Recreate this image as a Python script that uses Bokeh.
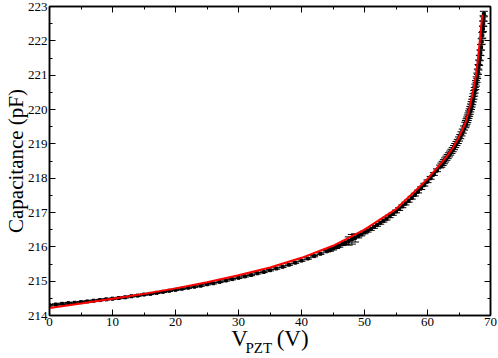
from bokeh.plotting import figure
from bokeh.models import (Range1d, LinearAxis, SingleIntervalTicker, Whisker, TeeHead,
                          ColumnDataSource, CustomJSTickFormatter)
from bokeh.embed import file_html
from bokeh.resources import INLINE

# ---------------- data ----------------
x_label_main = "V"
x_label_sub = "PZT"
x_label_unit = "(V)"
y_label = "Capacitance (pF)"

# measured capacitance, low-voltage part (1 V steps)
v_low = [0, 1, 2, 3, 4, 5, 6, 7, 8, 9, 10, 11, 12, 13, 14, 15, 16, 17, 18, 19, 20,
         21, 22, 23, 24, 25, 26, 27, 28, 29, 30, 31, 32, 33, 34, 35, 36, 37, 38, 39,
         40, 41, 42, 43, 44]
c_low = [214.30, 214.32, 214.34, 214.36, 214.37, 214.39, 214.41, 214.43, 214.45, 214.47,
         214.49, 214.51, 214.53, 214.56, 214.58, 214.61, 214.63, 214.66, 214.69, 214.72,
         214.75, 214.78, 214.81, 214.84, 214.87, 214.91, 214.94, 214.98, 215.02, 215.06,
         215.10, 215.14, 215.18, 215.23, 215.27, 215.32, 215.37, 215.42, 215.48, 215.54,
         215.60, 215.66, 215.73, 215.80, 215.87]
e_low = [0.02, 0.02, 0.02, 0.02, 0.02, 0.02, 0.02, 0.02, 0.02, 0.02,
         0.02, 0.02, 0.02, 0.02, 0.02, 0.02, 0.02, 0.02, 0.02, 0.02,
         0.02, 0.02, 0.02, 0.02, 0.02, 0.02, 0.02, 0.02, 0.02, 0.02,
         0.02, 0.02, 0.02, 0.02, 0.02, 0.02, 0.02, 0.02, 0.02, 0.02,
         0.02, 0.02, 0.02, 0.02, 0.02]

# middle part (0.5 V steps)
v_mid = [44.5, 45, 45.5, 46, 46.5, 47, 47.5, 48, 48.5, 49, 49.5, 50, 50.5, 51, 51.5, 52,
         52.5, 53, 53.5, 54, 54.5, 55, 55.5, 56, 56.5, 57, 57.5, 58, 58.5, 59, 59.5, 60,
         60.5, 61, 61.5, 62]
c_mid = [215.91, 215.95, 215.99, 216.03, 216.08, 216.12, 216.17, 216.22, 216.26, 216.31,
         216.36, 216.42, 216.47, 216.52, 216.58, 216.64, 216.70, 216.76, 216.82, 216.89,
         216.96, 217.03, 217.10, 217.18, 217.26, 217.34, 217.43, 217.52, 217.61, 217.71,
         217.81, 217.91, 218.01, 218.12, 218.23, 218.34]
e_mid = [0.04, 0.04, 0.04, 0.04, 0.04, 0.05, 0.12, 0.14, 0.12, 0.05,
         0.04, 0.04, 0.04, 0.04, 0.04, 0.04, 0.04, 0.04, 0.04, 0.04,
         0.04, 0.04, 0.04, 0.04, 0.04, 0.04, 0.04, 0.04, 0.04, 0.04,
         0.04, 0.04, 0.04, 0.04, 0.04, 0.04]

# upper part (0.2 V steps)
v_high = [62.2, 62.4, 62.6, 62.8, 63.0, 63.2, 63.4, 63.6, 63.8, 64.0, 64.2, 64.4, 64.6,
          64.8, 65.0, 65.2, 65.4, 65.6, 65.8]
c_high = [218.38, 218.43, 218.48, 218.53, 218.58, 218.63, 218.68, 218.73, 218.78, 218.83,
          218.89, 218.95, 219.01, 219.07, 219.14, 219.21, 219.29, 219.37, 219.46]
e_high = [0.06, 0.06, 0.06, 0.06, 0.06, 0.06, 0.06, 0.06, 0.06, 0.06,
          0.06, 0.06, 0.06, 0.06, 0.06, 0.06, 0.06, 0.06, 0.06]

# top part (0.1 V steps)
v_top = [66.0, 66.1, 66.2, 66.3, 66.4, 66.5, 66.6, 66.7, 66.8, 66.9, 67.0, 67.1, 67.2,
         67.3, 67.4, 67.5, 67.6, 67.7, 67.8, 67.9, 68.0, 68.1, 68.2, 68.3, 68.4, 68.5,
         68.6, 68.7, 68.8, 68.85, 68.9, 68.95]
c_top = [219.55, 219.60, 219.65, 219.70, 219.76, 219.82, 219.88, 219.94, 220.01, 220.08,
         220.15, 220.22, 220.30, 220.38, 220.47, 220.56, 220.66, 220.76, 220.87, 220.98,
         221.10, 221.23, 221.36, 221.50, 221.65, 221.81, 221.98, 222.16, 222.35, 222.50,
         222.65, 222.78]
e_top = [0.08, 0.08, 0.08, 0.08, 0.08, 0.08, 0.08, 0.08, 0.08, 0.08,
         0.08, 0.08, 0.08, 0.08, 0.08, 0.08, 0.08, 0.08, 0.08, 0.08,
         0.08, 0.08, 0.08, 0.08, 0.08, 0.08, 0.08, 0.08, 0.08, 0.08,
         0.08, 0.08]

# fitted curve (red)
fit_v = [0, 5, 10, 15, 20, 25, 30, 35, 40, 45, 50, 55, 58, 60, 62, 63, 64, 65, 66,
         66.6, 67.2, 67.7, 68.0, 68.3, 68.5, 68.7]
fit_c = [214.22, 214.35, 214.49, 214.63, 214.79, 214.97, 215.17, 215.40, 215.68, 216.03,
         216.50, 217.10, 217.62, 217.98, 218.40, 218.62, 218.88, 219.20, 219.60,
         220.00, 220.50, 221.00, 221.45, 222.00, 222.40, 222.76]

# ---------------- build ----------------
volts = v_low + v_mid + v_high + v_top
cap = c_low + c_mid + c_high + c_top
err = e_low + e_mid + e_high + e_top
src = ColumnDataSource(dict(
    v=volts, c=cap,
    lo=[c - e for c, e in zip(cap, err)],
    hi=[c + e for c, e in zip(cap, err)],
))

FONT = "Liberation Serif"

p = figure(width=498, height=358, output_backend="svg", toolbar_location=None,
           x_range=Range1d(0, 70), y_range=Range1d(214, 223),
           min_border_left=10, min_border_right=8, min_border_top=6, min_border_bottom=43)
p.grid.visible = False
p.outline_line_color = "black"
p.outline_line_width = 1.5
p.background_fill_color = "white"
p.border_fill_color = "white"

p.xaxis.ticker = SingleIntervalTicker(interval=10, num_minor_ticks=2)
p.yaxis.ticker = SingleIntervalTicker(interval=1, num_minor_ticks=2)


def style(ax, labels=True):
    ax.axis_line_color = "black"
    ax.axis_line_width = 1.5
    ax.major_tick_in = 6
    ax.major_tick_out = 0
    ax.minor_tick_in = 3
    ax.minor_tick_out = 0
    ax.major_tick_line_color = "black"
    ax.minor_tick_line_color = "black"
    ax.major_tick_line_width = 1
    ax.minor_tick_line_width = 1
    if labels:
        ax.major_label_text_font = FONT
        ax.major_label_text_font_size = "13px"
        ax.major_label_text_color = "black"
        ax.major_label_standoff = 2
    else:
        ax.formatter = CustomJSTickFormatter(code="return ''")
        ax.major_label_text_font_size = "0px"
        ax.major_label_standoff = 0


style(p.xaxis[0])
style(p.yaxis[0])
p.yaxis.axis_label = y_label
p.yaxis.axis_label_text_font = FONT
p.yaxis.axis_label_text_font_size = "21px"
p.yaxis.axis_label_text_font_style = "normal"
p.yaxis.axis_label_text_color = "black"
p.yaxis.axis_label_standoff = -3

# main x label: "V" and "(V)" with a gap left for the subscript
p.xaxis.axis_label = x_label_main + "\u2003\u2005" + x_label_unit
p.xaxis.axis_label_text_font = FONT
p.xaxis.axis_label_text_font_size = "23px"
p.xaxis.axis_label_text_font_style = "normal"
p.xaxis.axis_label_text_color = "black"
p.xaxis.axis_label_standoff = -3

ax_r = LinearAxis(ticker=SingleIntervalTicker(interval=1, num_minor_ticks=2))
style(ax_r, labels=False)
p.add_layout(ax_r, "right")
ax_t = LinearAxis(ticker=SingleIntervalTicker(interval=10, num_minor_ticks=2))
style(ax_t, labels=False)
p.add_layout(ax_t, "above")

# subscript "PZT": an extra, invisible bottom axis whose label is pulled up
ax_sub = LinearAxis(ticker=SingleIntervalTicker(interval=10, num_minor_ticks=0))
ax_sub.axis_line_color = None
ax_sub.major_tick_line_color = None
ax_sub.minor_tick_line_color = None
ax_sub.major_tick_out = 0
ax_sub.major_tick_in = 0
ax_sub.minor_tick_out = 0
ax_sub.minor_tick_in = 0
ax_sub.formatter = CustomJSTickFormatter(code="return ''")
ax_sub.major_label_text_font_size = "0px"
ax_sub.major_label_standoff = 0
ax_sub.axis_label = x_label_sub + "\u2003\u2002"
ax_sub.axis_label_text_font = FONT
ax_sub.axis_label_text_font_size = "15px"
ax_sub.axis_label_text_font_style = "normal"
ax_sub.axis_label_text_color = "black"
ax_sub.axis_label_standoff = -14
p.add_layout(ax_sub, "below")

# error bars + points
wh = Whisker(source=src, base="v", lower="lo", upper="hi", dimension="height",
             line_color="black", line_width=1,
             upper_head=TeeHead(size=8, line_color="black", line_width=1),
             lower_head=TeeHead(size=8, line_color="black", line_width=1))
p.add_layout(wh)
p.scatter("v", "c", source=src, marker="square", size=3, color="black")

# fit curve
p.line(fit_v, fit_c, line_color="red", line_width=2)

open("out.html", "w").write(file_html(p, INLINE))
